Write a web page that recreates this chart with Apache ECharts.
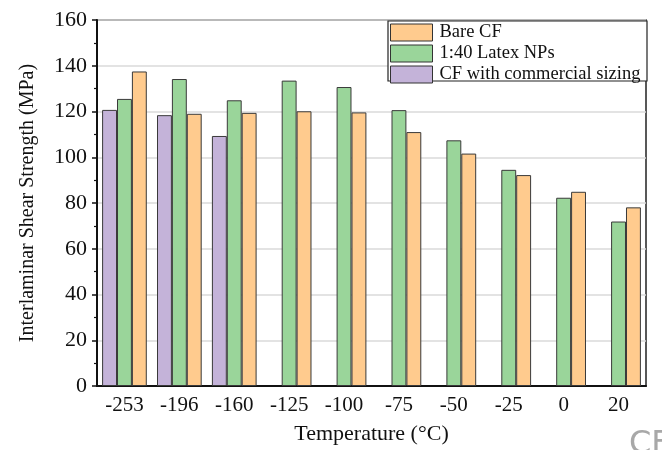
<!DOCTYPE html>
<html>
<head>
<meta charset="utf-8">
<script src="https://cdn.jsdelivr.net/npm/echarts@6/dist/echarts.min.js"></script>
<style>html,body{margin:0;padding:0;background:#fff;}#c{width:662px;height:450px;}</style>
</head>
<body>
<div id="c"></div>
<script>
var categories = ['-253', '-196', '-160', '-125', '-100', '-75', '-50', '-25', '0', '20'];
var commercialSizing = [120.7, 118.4, 109.3, null, null, null, null, null, null, null];
var latexNPs = [125.5, 134.2, 124.9, 133.5, 130.7, 120.6, 107.4, 94.5, 82.3, 71.9];
var bareCF = [137.5, 119.0, 119.4, 120.1, 119.6, 111.0, 101.6, 92.2, 84.9, 78.1];
var yTicks = [0, 20, 40, 60, 80, 100, 120, 140, 160];

var FONT = 'Liberation Serif';
var chart = echarts.init(document.getElementById('c'), null, {renderer: 'canvas'});
var barBorder = {borderColor: '#3a3a3a', borderWidth: 1};
chart.setOption({
  animation: false,
  backgroundColor: '#ffffff',
  grid: {left: 97, right: 16, top: 20, bottom: 62, show: true, borderColor: '#222', borderWidth: 1.5, backgroundColor: 'transparent'},
  legend: {
    orient: 'vertical', left: 390, top: 23, padding: 0, itemGap: 2,
    itemWidth: 42, itemHeight: 17, icon: 'rect', z: 10,
    data: ['Bare CF', '1:40 Latex NPs', 'CF with commercial sizing'],
    textStyle: {fontFamily: FONT, fontSize: 18.5, color: '#111', padding: [0, 0, 0, 2]},
    itemStyle: {borderColor: '#333', borderWidth: 1}
  },
  graphic: [
    {type: 'rect', z: 8, shape: {x: 388, y: 21, width: 259, height: 60}, style: {fill: '#fff', stroke: '#222', lineWidth: 1.2}},
    {type: 'text', left: 629, top: 429, z: 1, style: {text: 'CF', font: '32px "DejaVu Sans", sans-serif', fill: '#a8a8a8'}}
  ],
  xAxis: [{
    type: 'category', data: categories, position: 'bottom',
    name: 'Temperature (°C)', nameLocation: 'middle', nameGap: 37,
    nameTextStyle: {fontFamily: FONT, fontSize: 22, color: '#111'},
    axisLine: {lineStyle: {color: '#111', width: 2}},
    axisTick: {alignWithLabel: true, length: 5, inside: false, lineStyle: {color: '#111', width: 1.5}},
    axisLabel: {fontFamily: FONT, fontSize: 21, color: '#111', margin: 9},
    splitLine: {show: false}
  }, {
    type: 'category', data: categories, position: 'bottom',
    axisLine: {show: false},
    axisTick: {alignWithLabel: false, length: 3, lineStyle: {color: '#111', width: 1.2}},
    axisLabel: {show: false}, splitLine: {show: false}
  }],
  yAxis: {
    type: 'value', min: yTicks[0], max: yTicks[yTicks.length - 1], interval: 20,
    name: 'Interlaminar Shear Strength (MPa)', nameLocation: 'middle', nameGap: 59,
    nameTextStyle: {fontFamily: FONT, fontSize: 20, color: '#111'},
    axisLine: {show: true, lineStyle: {color: '#111', width: 2}},
    axisTick: {show: true, length: 5, lineStyle: {color: '#111', width: 1.5}},
    minorTick: {show: true, splitNumber: 2, length: 3, lineStyle: {color: '#111', width: 1.2}},
    axisLabel: {fontFamily: FONT, fontSize: 22, color: '#111', margin: 10},
    splitLine: {show: true, lineStyle: {color: '#dadada', width: 1.5}}
  },
  series: [
    {name: 'CF with commercial sizing', type: 'bar', data: commercialSizing, barGap: '0%', barCategoryGap: '18.6%',
     itemStyle: Object.assign({color: '#c4b3d9'}, barBorder)},
    {name: '1:40 Latex NPs', type: 'bar', data: latexNPs, barGap: '0%', barCategoryGap: '18.6%',
     itemStyle: Object.assign({color: '#9ad59a'}, barBorder)},
    {name: 'Bare CF', type: 'bar', data: bareCF, barGap: '0%', barCategoryGap: '18.6%',
     itemStyle: Object.assign({color: '#ffcb8e'}, barBorder)}
  ]
});
</script>
</body>
</html>
